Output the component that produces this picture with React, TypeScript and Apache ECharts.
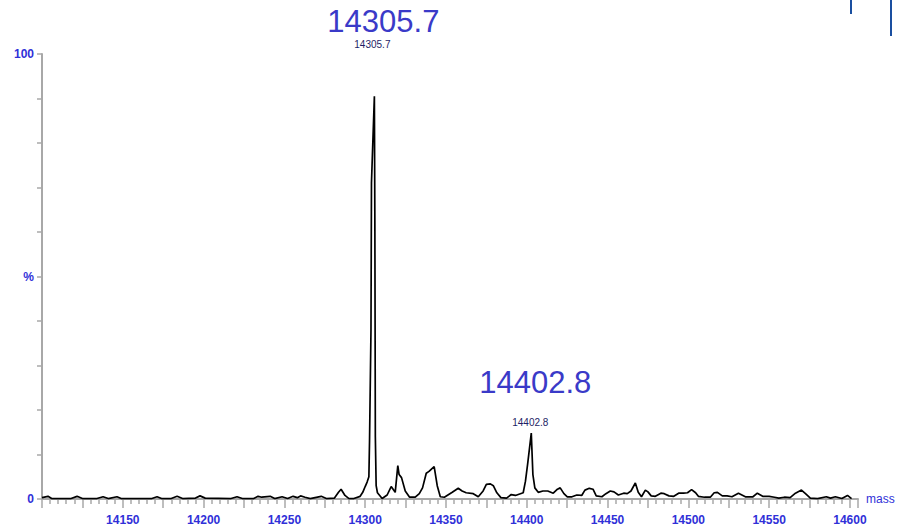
import React, { useEffect, useRef } from "react";
import * as echarts from "echarts";

// mass (Da) and relative intensity (%)
const masses: number[] = [
  14100, 14103.7, 14106, 14118, 14121.7, 14125, 14134, 14137.8, 14141, 14146.4, 14149,
  14168, 14171.2, 14174, 14180, 14183.6, 14187, 14195, 14197.8, 14201, 14217, 14220.7,
  14224, 14231, 14233.7, 14236, 14241.2, 14244, 14248.6, 14252, 14255.4, 14258, 14260,
  14262.8, 14266, 14272.8, 14276, 14281, 14283.5, 14285.1, 14287.5, 14290, 14293, 14296.9,
  14298.5, 14300, 14301.2, 14302.3, 14302.7, 14303.6, 14303.9, 14305.7, 14306.0, 14306.3,
  14306.8, 14307.6, 14310.5, 14313.6, 14316.1, 14318.6, 14320.2, 14321, 14322.5, 14324.8,
  14327.5, 14331, 14333.5, 14335.5, 14337.8, 14339.5, 14342.7, 14344.6, 14346.5, 14349,
  14353.9, 14357.6, 14360, 14362.5, 14366.9, 14370, 14373, 14375, 14377.5, 14379.3,
  14381.5, 14384, 14387.5, 14390.4, 14393, 14397.8, 14399.2, 14400.6, 14402.8, 14403.8,
  14405, 14407.1, 14410, 14413, 14416.4, 14419, 14420.7, 14423, 14425.1, 14428, 14431,
  14434, 14436, 14438.7, 14441, 14443, 14446.5, 14449, 14451.7, 14454, 14456.7, 14460,
  14462.2, 14464.5, 14467.2, 14469, 14471, 14473.4, 14475, 14477, 14479.6, 14483, 14485.1,
  14488, 14491, 14494, 14497, 14499.5, 14502, 14504.5, 14506.2, 14510, 14513.6, 14516,
  14518, 14521, 14524, 14527, 14531, 14535.3, 14540, 14542.7, 14546, 14550, 14553.3,
  14556, 14559.4, 14563, 14566.3, 14570, 14572.5, 14575.5, 14580, 14585.4, 14588, 14591,
  14595, 14598.5, 14601,
];
const intensities: number[] = [
  0.3, 0.6, 0.1, 0.1, 0.6, 0.1, 0.1, 0.5, 0.1, 0.5, 0.1,
  0.1, 0.5, 0.1, 0.1, 0.6, 0.1, 0.2, 0.7, 0.2, 0.1, 0.5,
  0.1, 0.1, 0.6, 0.4, 0.6, 0.1, 0.5, 0.1, 0.6, 0.3, 0.7,
  0.4, 0.1, 0.6, 0.1, 0.2, 1.5, 2.2, 0.8, 0.1, 0.1, 0.6,
  1.5, 2.8, 3.8, 5, 13, 38, 71, 90.5, 62, 14,
  3, 1.4, 0.1, 0.9, 2.8, 1.5, 7.5, 5.5, 4.8, 1.8,
  0.4, 0.4, 1.2, 2.5, 5.8, 6.2, 7.3, 3, 0.5, 0.4,
  1.5, 2.4, 1.8, 1.4, 1.2, 0.5, 1.8, 3.3, 3.4, 3,
  1.4, 0.3, 0.2, 1, 0.8, 1.4, 4, 8, 14.8, 5.5,
  2.5, 1.5, 1.8, 1.8, 1.3, 2.2, 2.5, 1.2, 0.5, 0.5, 0.9,
  0.8, 2, 2.4, 2.2, 0.7, 0.5, 1.2, 1.8, 1.6, 0.9, 1.3,
  1.2, 1.8, 3.6, 1.5, 0.5, 2.0, 1.6, 0.7, 0.6, 1.3, 1.2,
  0.7, 0.6, 1.3, 1.3, 1.4, 2.1, 1.4, 0.6, 0.4, 0.4, 1.4,
  1.5, 0.7, 0.7, 0.5, 1.3, 0.5, 0.5, 1.3, 0.6, 0.6, 0.4,
  0.2, 0.4, 0.3, 1.3, 2.0, 1.2, 0.2, 0.1, 0.5, 0.2, 0.5,
  0.1, 0.8, 0.1,
];

// labelled peaks
const peakMasses: number[] = [14305.7, 14402.8];
const peakIntensities: number[] = [90.5, 14.8];
const peakLabels: string[] = ["14305.7", "14402.8"];

const xMin = 14100;
const xMax = 14605;

export default function App() {
  const ref = useRef<HTMLDivElement>(null);
  useEffect(() => {
    if (!ref.current) return;
    const chart = echarts.init(ref.current, undefined, { renderer: "svg" });
    const font = "'Liberation Sans', Arial, sans-serif";
    const blue = "#3030d8";
    const gray = "#a8a8a8";
    const data = masses.map((m, i) => [m, intensities[i]]);
    const bigOffsets = [
      [9, -75],
      [4, -51],
    ];
    const smallOffsets = [
      [-2, -52],
      [-1, -11],
    ];
    const markData: any[] = [];
    peakMasses.forEach((m, i) => {
      markData.push({
        coord: [m, peakIntensities[i]],
        value: peakLabels[i],
        label: {
          show: true,
          position: "inside",
          offset: smallOffsets[i],
          formatter: peakLabels[i],
          color: "#1e1e66",
          fontSize: 10,
          fontFamily: font,
        },
      });
      markData.push({
        coord: [m, peakIntensities[i]],
        value: peakLabels[i],
        label: {
          show: true,
          position: "inside",
          offset: bigOffsets[i],
          formatter: peakLabels[i],
          color: "#3a3ac8",
          fontSize: 31,
          fontFamily: font,
        },
      });
    });
    chart.setOption({
      animation: false,
      backgroundColor: "#ffffff",
      grid: { left: 42, right: 44, top: 54, bottom: 31 },
      xAxis: {
        type: "value",
        min: xMin,
        max: xMax,
        interval: 25,
        name: "mass",
        nameLocation: "end",
        nameGap: 8,
        nameTextStyle: { color: blue, fontSize: 12, fontFamily: font, verticalAlign: "middle", padding: [12, 0, 0, 0] },
        axisLine: { show: true, lineStyle: { color: gray, width: 2 } },
        axisTick: { show: true, length: 9, lineStyle: { color: gray, width: 1.5 } },
        minorTick: { show: true, splitNumber: 5, length: 5, lineStyle: { color: gray, width: 1.5 } },
        splitLine: { show: false },
        axisLabel: {
          color: blue,
          fontSize: 12,
          fontWeight: "bold",
          fontFamily: font,
          margin: 15,
          hideOverlap: false,
          formatter: (v: number) => (v % 50 === 0 && v > xMin && v <= 14600 ? String(v) : ""),
        },
      },
      yAxis: {
        type: "value",
        min: 0,
        max: 100,
        interval: 10,
        axisLine: { show: true, lineStyle: { color: gray, width: 2 } },
        axisTick: { show: true, length: 5, lineStyle: { color: gray, width: 1.5 } },
        splitLine: { show: false },
        axisLabel: {
          color: blue,
          fontSize: 12,
          fontWeight: "bold",
          fontFamily: font,
          margin: 8,
          formatter: (v: number) => (v === 0 ? "0" : v === 100 ? "100" : v === 50 ? "%" : ""),
        },
      },
      series: [
        {
          type: "line",
          data,
          showSymbol: false,
          symbol: "none",
          lineStyle: { color: "#000000", width: 1.7 },
          markPoint: {
            symbol: "rect",
            symbolSize: 1,
            itemStyle: { color: "rgba(0,0,0,0)" },
            data: markData,
          },
        },
      ],
      graphic: [
        { type: "line", shape: { x1: 851, y1: 0, x2: 851, y2: 14 }, style: { stroke: "#1a4fa0", lineWidth: 2 } },
        { type: "line", shape: { x1: 891, y1: 0, x2: 891, y2: 36 }, style: { stroke: "#1a4fa0", lineWidth: 2 } },
      ],
    });
    return () => chart.dispose();
  }, []);
  return (
    <div
      ref={ref}
      style={{ position: "fixed", left: 0, top: 0, width: 902, height: 530, background: "#fff" }}
    />
  );
}
